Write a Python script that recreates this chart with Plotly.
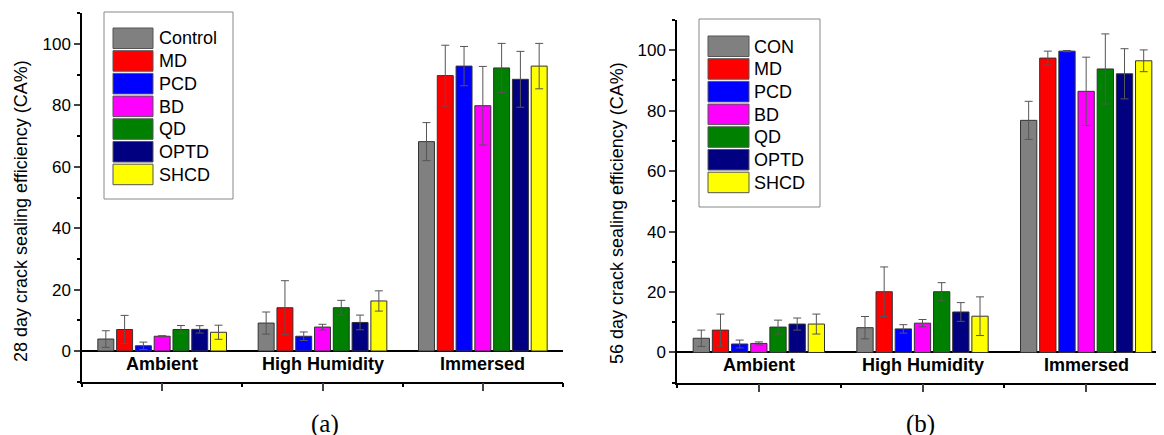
import plotly.graph_objects as go

W, H = 1164, 435
OFF = 8  # page body margin offset

categories = ["Ambient", "High Humidity", "Immersed"]
series_a = ["Control", "MD", "PCD", "BD", "QD", "OPTD", "SHCD"]
series_b = ["CON", "MD", "PCD", "BD", "QD", "OPTD", "SHCD"]
colors = ["#808080", "#FF0000", "#0000FF", "#FF00FF", "#008000", "#000080", "#FFFF00"]

# 28 day values [Ambient, High Humidity, Immersed]
vals_a = {
    "Control": [3.9, 9.1, 68.2],
    "MD": [7.0, 14.1, 89.7],
    "PCD": [1.7, 4.8, 92.8],
    "BD": [4.8, 7.8, 79.9],
    "QD": [7.0, 14.1, 92.2],
    "OPTD": [7.05, 9.3, 88.5],
    "SHCD": [6.1, 16.3, 92.8],
}
err_a = {
    "Control": [2.7, 3.6, 6.2],
    "MD": [4.6, 8.8, 9.9],
    "PCD": [1.2, 1.4, 6.4],
    "BD": [0.2, 0.9, 12.8],
    "QD": [1.3, 2.4, 8.0],
    "OPTD": [1.2, 2.4, 9.1],
    "SHCD": [2.3, 3.3, 7.4],
}
# 56 day values
vals_b = {
    "CON": [4.7, 8.2, 76.8],
    "MD": [7.4, 20.1, 97.4],
    "PCD": [2.8, 7.8, 99.7],
    "BD": [3.0, 9.7, 86.4],
    "QD": [8.4, 20.1, 93.8],
    "OPTD": [9.4, 13.4, 92.2],
    "SHCD": [9.4, 12.0, 96.5],
}
err_b = {
    "CON": [2.7, 3.7, 6.3],
    "MD": [5.3, 8.2, 2.3],
    "PCD": [1.3, 1.4, 0.2],
    "BD": [0.5, 1.2, 11.3],
    "QD": [2.3, 3.0, 11.6],
    "OPTD": [2.0, 3.1, 8.3],
    "SHCD": [3.3, 6.4, 3.6],
}

xpos = list(range(len(categories)))

fig = go.Figure()

def add_bars(names, vals, errs, xa, ya):
    for name, c in zip(names, colors):
        fig.add_trace(go.Bar(
            x=xpos, y=vals[name], name=name, xaxis=xa, yaxis=ya,
            marker=dict(color=c, line=dict(color="#333333", width=1)),
            error_y=dict(type="data", array=errs[name], visible=True,
                         color="#555555", thickness=1, width=4),
            showlegend=False, offsetgroup=name + xa,
        ))

add_bars(series_a, vals_a, err_a, "x", "y")
add_bars(series_b, vals_b, err_b, "x2", "y2")

def px(x):
    return (x - OFF) / W

def py(y):
    return 1 - (y - OFF) / H

tickfont = dict(family="Liberation Sans, Arial", size=17, color="black")

yax = dict(range=[-10, 110], tickvals=[0, 20, 40, 60, 80, 100], ticks="outside",
           ticklen=6, tickwidth=1.5, showline=True, linecolor="black", linewidth=1.5,
           showgrid=False, zeroline=True, zerolinecolor="black", zerolinewidth=1.5,
           tickfont=tickfont,
           minor=dict(dtick=10, tick0=0, ticks="outside", ticklen=3, tickwidth=1.5,
                      tickcolor="black", showgrid=False))
xax = dict(tickvals=xpos, ticktext=["" for _ in xpos], ticks="outside", ticklen=8,
           tickwidth=1.5, showline=True, linecolor="black", linewidth=1.5,
           showgrid=False, zeroline=False,
           minor=dict(dtick=1, tick0=-0.5, ticks="outside", ticklen=4, tickwidth=1.5,
                      tickcolor="black", showgrid=False))

fig.update_layout(
    width=W, height=H, margin=dict(l=0, r=0, t=0, b=0),
    paper_bgcolor="white", plot_bgcolor="white",
    barmode="group", bargap=0.18, bargroupgap=0.15,
    xaxis=dict(xax, domain=[px(82), px(563)], range=[-0.5, 2.5], anchor="y"),
    yaxis=dict(yax, domain=[py(381.7), py(13.3)], anchor="x"),
    xaxis2=dict(xax, domain=[px(677), px(1168)], range=[-0.5, 2.5], anchor="y2"),
    yaxis2=dict(yax, domain=[py(382.7), py(20)], anchor="x2"),
    showlegend=False,
)

shapes = []
annotations = []
catfont = dict(family="Liberation Sans, Arial", size=18, color="black")
for xa, ya in (("x", "y"), ("x2", "y2")):
    for i, cat in enumerate(categories):
        annotations.append(dict(x=i, y=0, xref=xa, yref=ya, text="<b>" + cat + "</b>",
                                showarrow=False, xanchor="center", yanchor="top",
                                yshift=-1, font=catfont))

def manual_legend(names, box, sw_x0, sw_x1, y0, step, text_x):
    shapes.append(dict(type="rect", xref="paper", yref="paper",
                       x0=px(box[0]), x1=px(box[2]), y0=py(box[3]), y1=py(box[1]),
                       line=dict(color="#888888", width=1), fillcolor="white", layer="above"))
    for k, (name, c) in enumerate(zip(names, colors)):
        top = y0 + k * step
        shapes.append(dict(type="rect", xref="paper", yref="paper",
                           x0=px(sw_x0), x1=px(sw_x1), y0=py(top + 20.5), y1=py(top),
                           line=dict(color="#555555", width=1), fillcolor=c, layer="above"))
        annotations.append(dict(x=px(text_x), y=py(top + 10.5), xref="paper", yref="paper",
                                text=name, showarrow=False, xanchor="left", yanchor="middle",
                                font=dict(family="Liberation Sans, Arial", size=18, color="black")))

manual_legend(series_a, (104, 12, 233, 199), 113, 153, 28, 22.7, 157)
manual_legend(series_b, (699, 19, 820, 207), 708, 749, 36, 22.7, 752)

titlefont = dict(family="Liberation Sans, Arial", size=18, color="black")
annotations.append(dict(x=px(21), y=py(211), xref="paper", yref="paper", textangle=-90,
                        text="28 day crack sealing efficiency (CA%)", showarrow=False,
                        xanchor="center", yanchor="middle", font=titlefont))
annotations.append(dict(x=px(617), y=py(213), xref="paper", yref="paper", textangle=-90,
                        text="56 day crack sealing efficiency (CA%)", showarrow=False,
                        xanchor="center", yanchor="middle", font=titlefont))
capfont = dict(family="Liberation Serif, Times New Roman", size=25, color="black")
annotations.append(dict(x=px(325), y=py(424), xref="paper", yref="paper", text="(a)",
                        showarrow=False, xanchor="center", yanchor="middle", font=capfont))
annotations.append(dict(x=px(920), y=py(424), xref="paper", yref="paper", text="(b)",
                        showarrow=False, xanchor="center", yanchor="middle", font=capfont))

fig.update_layout(shapes=shapes, annotations=annotations)
fig.write_html("out.html")
